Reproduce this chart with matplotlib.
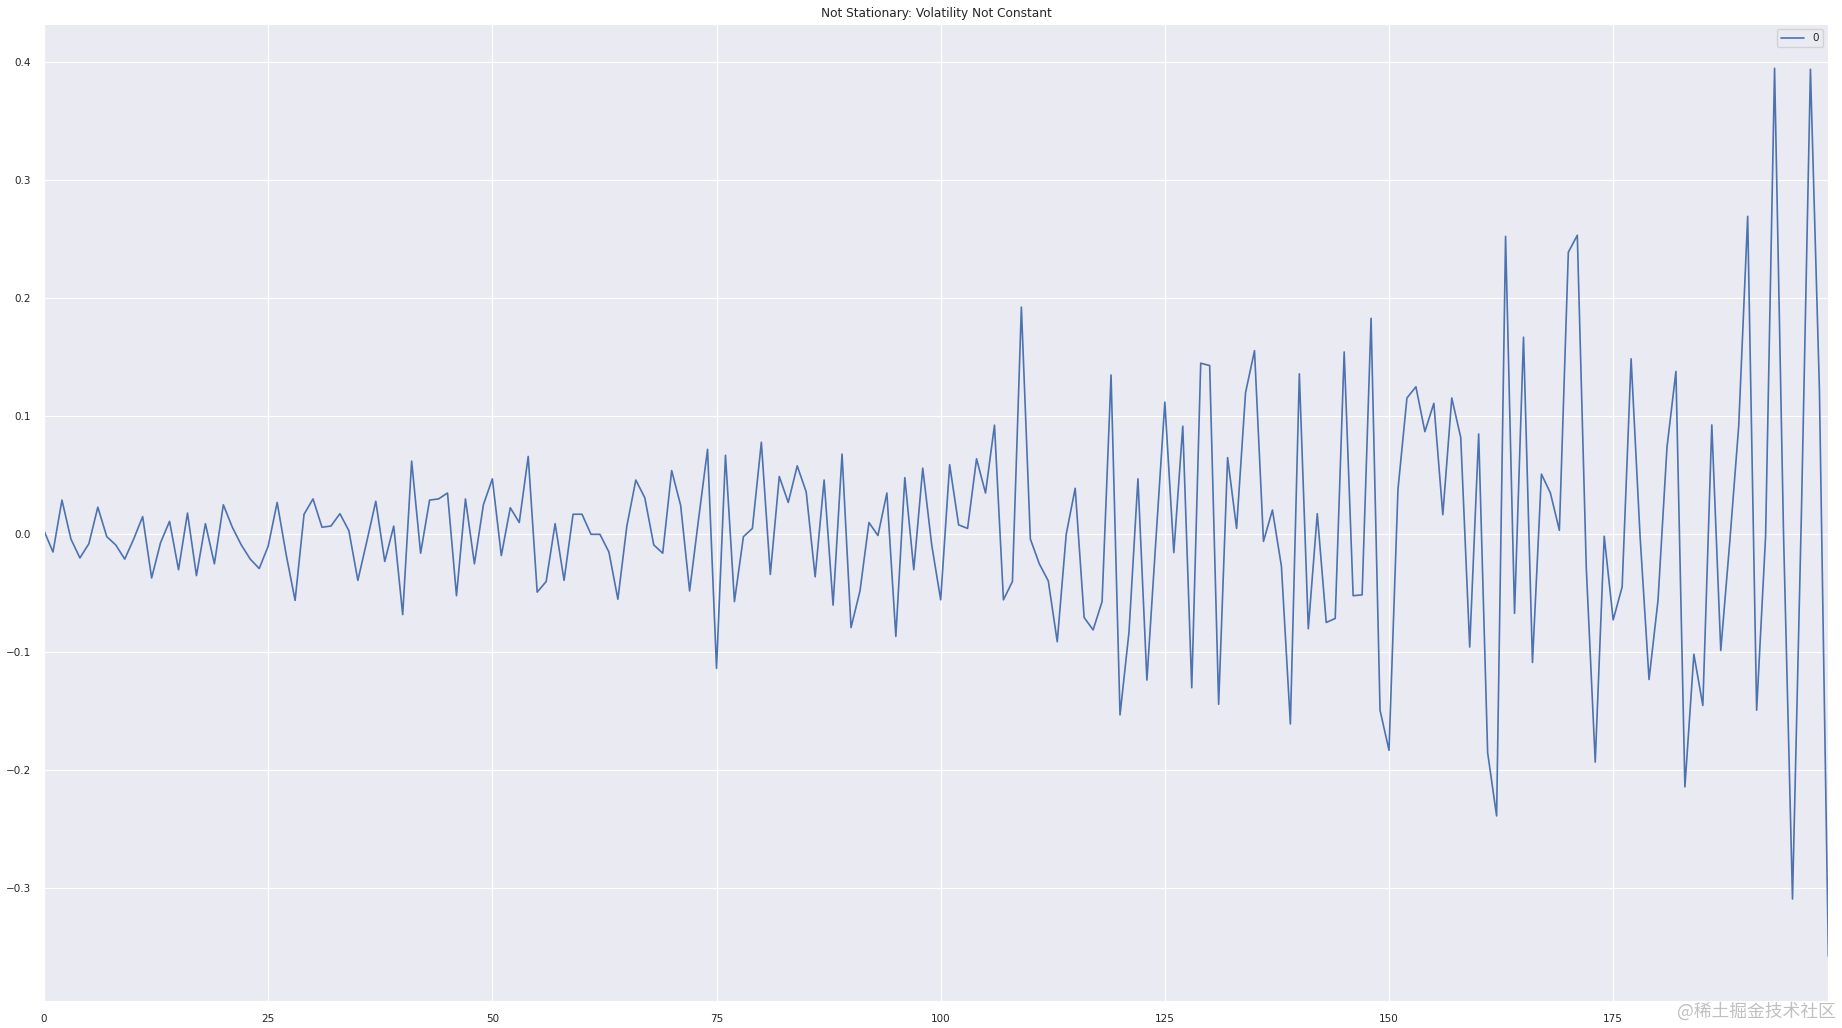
import matplotlib
matplotlib.use("Agg")
import matplotlib.pyplot as plt
import seaborn as sns
import pandas as pd

# значения ряда (индексы 0..199)
values = [
    0.003, -0.015, 0.029, -0.004, -0.020, -0.008, 0.023, -0.002, -0.009, -0.021,
    -0.004, 0.015, -0.037, -0.007, 0.011, -0.030, 0.018, -0.035, 0.009, -0.025,
    0.025, 0.006, -0.009, -0.021, -0.029, -0.010, 0.027, -0.017, -0.056, 0.017,
    0.030, 0.006, 0.007, 0.0175, 0.003, -0.039, -0.006, 0.028, -0.023, 0.007,
    -0.068, 0.062, -0.016, 0.029, 0.030, 0.035, -0.052, 0.030, -0.025, 0.025,
    0.047, -0.018, 0.0225, 0.010, 0.066, -0.049, -0.040, 0.009, -0.039, 0.017,
    0.017, 0.000, 0.000, -0.015, -0.055, 0.007, 0.046, 0.031, -0.009, -0.016,
    0.054, 0.0245, -0.048, 0.013, 0.072, -0.1136, 0.067, -0.057, -0.002, 0.005,
    0.078, -0.034, 0.049, 0.027, 0.058, 0.036, -0.036, 0.046, -0.060, 0.068,
    -0.079, -0.048, 0.010, -0.001, 0.035, -0.0865, 0.048, -0.030, 0.056, -0.009,
    -0.0555, 0.059, 0.008, 0.005, 0.064, 0.035, 0.0925, -0.0555, -0.040, 0.1925,
    -0.004, -0.025, -0.0395, -0.091, 0.000, 0.039, -0.0705, -0.081, -0.057, 0.135,
    -0.153, -0.083, 0.047, -0.1235, -0.005, 0.112, -0.0155, 0.0916, -0.130, 0.145,
    0.143, -0.144, 0.065, 0.005, 0.120, 0.1556, -0.006, 0.0206, -0.027, -0.1607,
    0.136, -0.080, 0.0175, -0.0747, -0.0713, 0.1545, -0.052, -0.0513, 0.183, -0.149,
    -0.183, 0.038, 0.1155, 0.125, 0.087, 0.111, 0.0166, 0.1155, 0.082, -0.0955,
    0.085, -0.185, -0.2386, 0.2524, -0.067, 0.167, -0.1086, 0.051, 0.035, 0.0034,
    0.239, 0.2534, -0.028, -0.193, -0.0016, -0.0725, -0.0446, 0.1487, -0.0016, -0.123,
    -0.056, 0.0736, 0.138, -0.214, -0.1016, -0.145, 0.0927, -0.0984, -0.0067, 0.0917,
    0.2694, -0.149, -0.0016, 0.3948, 0.000, -0.309, 0.020, 0.394, 0.123, -0.3575,
]
x_ticks = [0, 25, 50, 75, 100, 125, 150, 175]
y_ticks = [-0.3, -0.2, -0.1, 0.0, 0.1, 0.2, 0.3, 0.4]
title = "Not Stationary: Volatility Not Constant"
series_name = "0"
watermark = "@稀土掘金技术社区"

sns.set_style("darkgrid")
plt.rcParams['font.family'] = ['DejaVu Sans', 'Noto Sans CJK SC']

df = pd.DataFrame({series_name: values})

fig = plt.figure(figsize=(18.42, 10.28), dpi=100)
ax = fig.add_axes([0.0239, 0.0266, 0.9687, 0.9501])
ax.plot(df.index, df[series_name], color="#4c72b0", linewidth=1.2, label=series_name)
ax.set_xlim(0, len(values) - 1)
ax.set_xticks(x_ticks)
ax.set_yticks(y_ticks)
ax.set_yticklabels(["\u22120.3", "\u22120.2", "\u22120.1", "0.0", "0.1", "0.2", "0.3", "0.4"])
ax.tick_params(labelsize=7.5, colors="#262626", pad=6)
ax.set_title(title, fontsize=8.7, pad=5)
ax.legend(loc="upper right", fontsize=7.5, handlelength=2.2)

# водяной знак в правом нижнем углу
fig.text(0.9965, 0.0165, watermark, ha="right", va="center", fontsize=12.8,
         color="#c0c0c0", family=["Noto Sans CJK SC", "DejaVu Sans"])

fig.savefig("out.png", dpi=100)
